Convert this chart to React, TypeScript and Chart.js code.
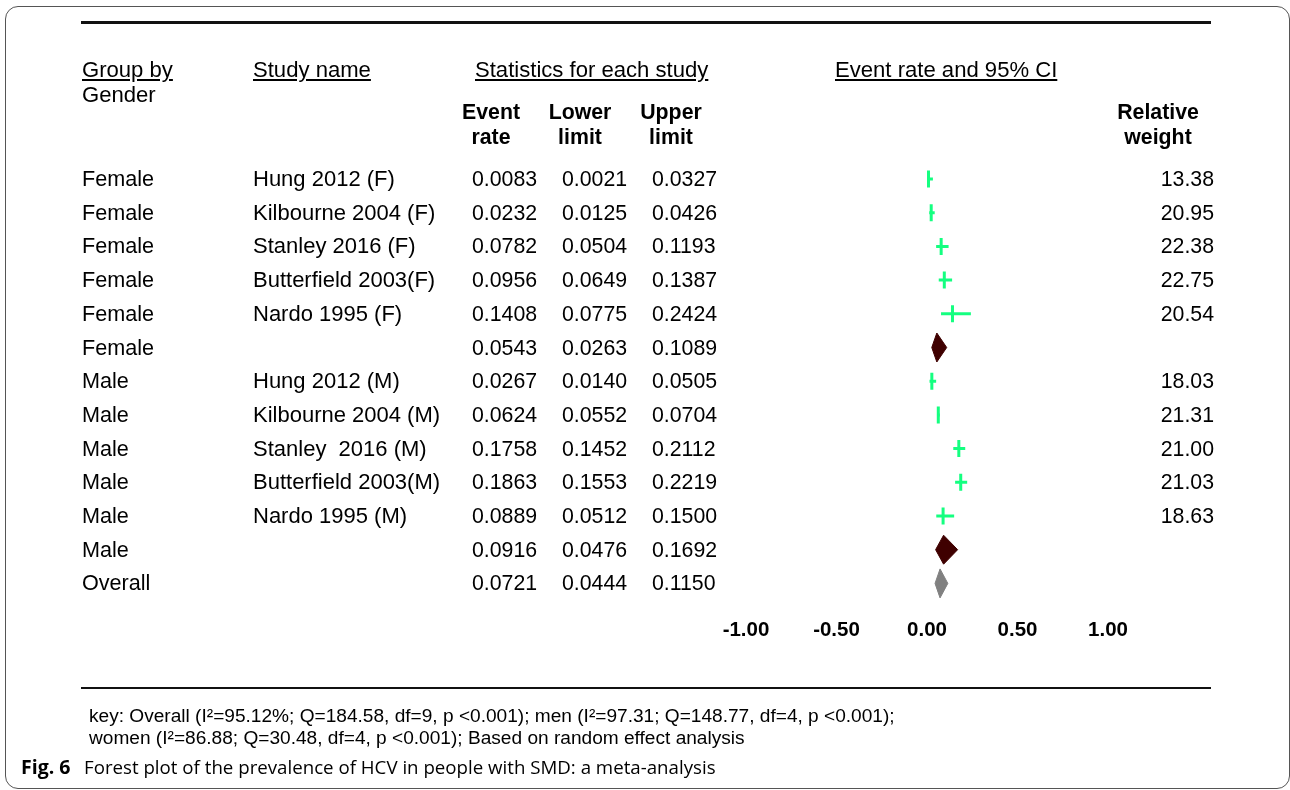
import React, { useEffect, useRef } from 'react';
import { Chart, registerables } from 'chart.js';

Chart.register(...registerables);

// ---------------- data ----------------
const groups = ['Female', 'Female', 'Female', 'Female', 'Female', 'Female', 'Male', 'Male', 'Male', 'Male', 'Male', 'Male', 'Overall'];
const studies = ['Hung 2012 (F)', 'Kilbourne 2004 (F)', 'Stanley 2016 (F)', 'Butterfield 2003(F)', 'Nardo 1995 (F)', '', 'Hung 2012 (M)', 'Kilbourne 2004 (M)', 'Stanley  2016 (M)', 'Butterfield 2003(M)', 'Nardo 1995 (M)', '', ''];
const rowKinds = ['study', 'study', 'study', 'study', 'study', 'subtotal', 'study', 'study', 'study', 'study', 'study', 'subtotal', 'overall'];
const eventRate = [0.0083, 0.0232, 0.0782, 0.0956, 0.1408, 0.0543, 0.0267, 0.0624, 0.1758, 0.1863, 0.0889, 0.0916, 0.0721];
const lowerLimit = [0.0021, 0.0125, 0.0504, 0.0649, 0.0775, 0.0263, 0.0140, 0.0552, 0.1452, 0.1553, 0.0512, 0.0476, 0.0444];
const upperLimit = [0.0327, 0.0426, 0.1193, 0.1387, 0.2424, 0.1089, 0.0505, 0.0704, 0.2112, 0.2219, 0.1500, 0.1692, 0.1150];
const relativeWeight = ['13.38', '20.95', '22.38', '22.75', '20.54', '', '18.03', '21.31', '21.00', '21.03', '18.63', '', ''];
const xTicks = [-1, -0.5, 0, 0.5, 1];

const headerGroup = ['Group by', 'Gender'];
const headerStudy = 'Study name';
const headerStats = 'Statistics for each study';
const headerPlot = 'Event rate and 95% CI';
const colHeaders = [['Event', 'rate'], ['Lower', 'limit'], ['Upper', 'limit']];
const weightHeader = ['Relative', 'weight'];
const keyLines = [
  'key: Overall (I\u00b2=95.12%; Q=184.58, df=9, p <0.001); men (I\u00b2=97.31; Q=148.77, df=4, p <0.001);',
  'women (I\u00b2=86.88; Q=30.48, df=4, p <0.001); Based on random effect analysis',
];
const captionLabel = 'Fig. 6';
const captionText = 'Forest plot of the prevalence of HCV in people with SMD: a meta-analysis';

// ---------------- style ----------------
const FONT = '"Liberation Sans", Arial, Helvetica, sans-serif';
const GREEN = '#14ff80';
const SUBTOTAL_COLOR = '#3f0000';
const OVERALL_COLOR = '#808080';
const ROW0 = 179;
const ROWH = 33.7;
const FS = 21.3;
const AXIS_H = 70;

export default function App() {
  const ref = useRef<HTMLCanvasElement>(null);

  useEffect(() => {
    const canvas = ref.current;
    if (!canvas) return;
    const studyRows = rowKinds.map((k, i) => (k === 'study' ? i : -1)).filter((i) => i >= 0);
    const summaryRows = rowKinds.map((k, i) => (k !== 'study' ? i : -1)).filter((i) => i >= 0);
    const H = 0.43;

    const ciSets: any[] = studyRows.map((i) => ({
      type: 'line',
      data: [
        { x: lowerLimit[i], y: i },
        { x: upperLimit[i], y: i },
      ],
      borderColor: GREEN,
      borderWidth: 3,
      borderCapStyle: 'butt',
      pointRadius: 0,
      fill: false,
      tension: 0,
    }));

    const estSet: any = {
      type: 'scatter',
      data: studyRows.map((i) => ({ x: eventRate[i], y: i })),
      pointStyle: 'line',
      pointRotation: 90,
      pointRadius: 8.5,
      pointHoverRadius: 8.5,
      pointBorderWidth: 3,
      pointBorderColor: GREEN,
      pointBackgroundColor: GREEN,
      showLine: false,
    };

    const diamondSets: any[] = summaryRows.map((i) => {
      const c = rowKinds[i] === 'overall' ? OVERALL_COLOR : SUBTOTAL_COLOR;
      return {
        type: 'line',
        data: [
          { x: lowerLimit[i], y: i },
          { x: eventRate[i], y: i - H },
          { x: upperLimit[i], y: i },
          { x: eventRate[i], y: i + H },
          { x: lowerLimit[i], y: i },
        ],
        borderColor: c,
        backgroundColor: c,
        borderWidth: 1,
        pointRadius: 0,
        fill: 'shape',
        tension: 0,
      };
    });

    const chart = new Chart(canvas, {
      type: 'scatter',
      data: { datasets: [...ciSets, estSet, ...diamondSets] },
      options: {
        responsive: false,
        animation: false,
        devicePixelRatio: 1,
        layout: { padding: { left: 746, right: 182, top: ROW0 - ROWH / 2, bottom: 790 - (ROW0 + 12.5 * ROWH) - AXIS_H } },
        plugins: { legend: { display: false }, tooltip: { enabled: false } },
        scales: {
          x: {
            type: 'linear',
            min: xTicks[0],
            max: xTicks[xTicks.length - 1],
            afterBuildTicks: (scale: any) => {
              scale.ticks = xTicks.map((v) => ({ value: v }));
            },
            afterFit: (scale: any) => {
              scale.height = AXIS_H;
            },
            ticks: {
              callback: (v: any) => Number(v).toFixed(2),
              font: { family: FONT, size: 20.5, weight: 'bold' },
              color: '#000',
              padding: 18,
              maxRotation: 0,
              autoSkip: false,
            },
            grid: { display: false, drawTicks: false, tickLength: 0 },
            border: { display: false },
          },
          y: { type: 'linear', min: -0.5, max: 12.5, reverse: true, display: false },
        },
      } as any,
    });
    return () => chart.destroy();
  }, []);

  const abs = (extra: React.CSSProperties): React.CSSProperties => ({
    position: 'absolute',
    whiteSpace: 'pre',
    color: '#000',
    fontFamily: FONT,
    fontSize: FS,
    lineHeight: '24px',
    ...extra,
  });

  const HFS = 22.1;

  return (
    <div style={{ position: 'absolute', left: 0, top: 0, width: 1290, height: 790, overflow: 'hidden', background: '#fff' }}>
      <div style={{ position: 'absolute', left: 5, top: 6, width: 1283, height: 781, border: '1px solid #555', borderRadius: 13 }} />
      <div style={{ position: 'absolute', left: 81, top: 21, width: 1130, height: 2.5, background: '#111' }} />
      <div style={{ position: 'absolute', left: 81, top: 686.5, width: 1130, height: 2.5, background: '#111' }} />
      <canvas ref={ref} width={1290} height={790} style={{ position: 'absolute', left: 0, top: 0 }} />

      <div style={abs({ left: 82, top: 58, fontSize: HFS, textDecoration: 'underline' })}>{headerGroup[0]}</div>
      <div style={abs({ left: 82, top: 83, fontSize: HFS })}>{headerGroup[1]}</div>
      <div style={abs({ left: 253, top: 58, fontSize: HFS, textDecoration: 'underline' })}>{headerStudy}</div>
      <div style={abs({ left: 475, top: 58, fontSize: HFS, textDecoration: 'underline' })}>{headerStats}</div>
      <div style={abs({ left: 835, top: 58, fontSize: HFS, textDecoration: 'underline' })}>{headerPlot}</div>

      {colHeaders.map((h, k) => (
        <div key={'ch' + k} style={abs({ left: [491, 580, 671][k] - 60, width: 120, top: 100, textAlign: 'center', fontWeight: 'bold', lineHeight: '25px' })}>
          {h[0] + '\n' + h[1]}
        </div>
      ))}
      <div style={abs({ left: 1158 - 60, width: 120, top: 100, textAlign: 'center', fontWeight: 'bold', lineHeight: '25px' })}>
        {weightHeader[0] + '\n' + weightHeader[1]}
      </div>

      {groups.map((g, i) => {
        const top = ROW0 + i * ROWH - 12;
        return (
          <React.Fragment key={'r' + i}>
            <div style={abs({ left: 82, top, fontSize: 21.6 })}>{g}</div>
            {studies[i] ? <div style={abs({ left: 253, top, fontSize: 22 })}>{studies[i]}</div> : null}
            <div style={abs({ left: 472, top })}>{eventRate[i].toFixed(4)}</div>
            <div style={abs({ left: 562, top })}>{lowerLimit[i].toFixed(4)}</div>
            <div style={abs({ left: 652, top })}>{upperLimit[i].toFixed(4)}</div>
            {relativeWeight[i] ? <div style={abs({ left: 1094, width: 120, textAlign: 'right', top })}>{relativeWeight[i]}</div> : null}
          </React.Fragment>
        );
      })}

      {keyLines.map((t, k) => (
        <div key={'k' + k} style={abs({ left: 89, top: 705 + k * 22, fontSize: 19.1, lineHeight: '22px' })}>{t}</div>
      ))}

      <div style={abs({ left: 21, top: 755, fontFamily: '"Open Sans", sans-serif', fontWeight: 'bold', fontSize: 19.5, lineHeight: '24px' })}>{captionLabel}</div>
      <div style={abs({ left: 84, top: 755, fontFamily: '"Open Sans", sans-serif', fontSize: 18.7, lineHeight: '24px' })}>{captionText}</div>
    </div>
  );
}
